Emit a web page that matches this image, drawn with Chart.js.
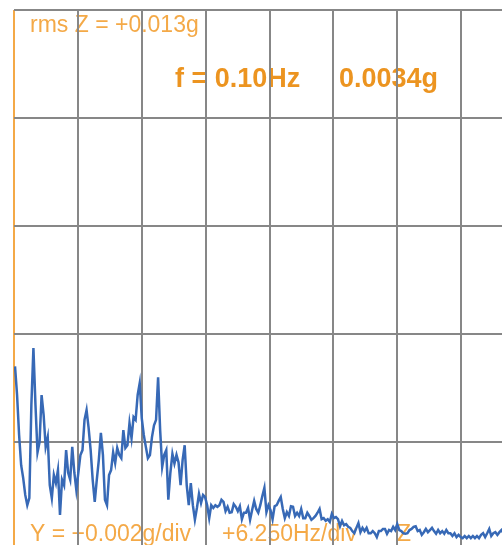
<!DOCTYPE html>
<html>
<head>
<meta charset="utf-8">
<title>Spectrum Z</title>
<script src="https://cdn.jsdelivr.net/npm/chart.js@4/dist/chart.umd.min.js"></script>
<style>
  html, body { margin: 0; padding: 0; background: #ffffff; overflow: hidden; }
  #wrap { position: absolute; left: 0; top: 0; width: 526px; height: 551px; }
</style>
</head>
<body>
<div id="wrap"><canvas id="spectrum" width="526" height="551"></canvas></div>
<script>
// Spectrum of the Z acceleration, amplitude per frequency bin (milli-g)
const FIRST_BIN_HZ = 0.1;
const BIN_HZ = 0.2;
const amplitudeMg = [
  3.40, 2.87, 2.13, 1.57, 1.33, 1.02, 0.83, 0.96, 2.69, 3.74,
  2.69, 1.81, 2.00, 2.87, 2.50, 1.91, 2.09, 1.20, 0.96, 1.39,
  1.24, 1.48, 0.65, 1.30, 1.20, 1.85, 1.43, 1.30, 1.91, 1.44,
  1.11, 1.44, 1.76, 1.85, 2.41, 2.59, 2.26, 1.85, 1.30, 0.89,
  1.30, 1.67, 2.17, 1.76, 0.93, 0.83, 1.39, 1.48, 1.81, 1.61,
  1.89, 1.76, 1.70, 2.22, 1.89, 1.94, 2.35, 2.07, 2.46, 2.41,
  2.87, 3.09, 2.44, 2.13, 1.91, 1.70, 1.76, 2.09, 2.31, 2.41,
  3.20, 2.22, 1.54, 1.76, 1.85, 0.93, 1.43, 1.78, 1.60, 1.76,
  1.62, 1.20, 1.67, 1.94, 1.20, 0.83, 1.24, 0.83, 0.56, 0.78,
  1.04, 0.87, 1.02, 0.98, 0.83, 0.59, 0.83, 0.78, 0.83, 0.80,
  0.83, 0.93, 0.89, 0.72, 0.80, 0.69, 0.70, 0.85, 0.80, 0.72,
  0.81, 0.57, 0.69, 0.69, 0.78, 0.56, 0.74, 0.91, 0.76, 0.69,
  0.83, 1.00, 1.15, 0.70, 0.83, 0.74, 0.57, 0.81, 0.83, 0.91,
  0.98, 0.76, 0.59, 0.70, 0.63, 0.81, 0.80, 0.63, 0.69, 0.63,
  0.76, 0.59, 0.59, 0.69, 0.63, 0.56, 0.59, 0.63, 0.69, 0.76,
  0.57, 0.59, 0.54, 0.57, 0.52, 0.67, 0.59, 0.61, 0.57, 0.44,
  0.54, 0.46, 0.48, 0.43, 0.41, 0.35, 0.31, 0.41, 0.50, 0.33,
  0.41, 0.35, 0.41, 0.31, 0.31, 0.35, 0.31, 0.24, 0.35, 0.35,
  0.39, 0.39, 0.30, 0.37, 0.35, 0.43, 0.37, 0.48, 0.37, 0.35,
  0.31, 0.30, 0.31, 0.37, 0.39, 0.43, 0.44, 0.35, 0.37, 0.28,
  0.33, 0.39, 0.33, 0.37, 0.41, 0.35, 0.30, 0.37, 0.31, 0.35,
  0.30, 0.37, 0.31, 0.31, 0.26, 0.31, 0.24, 0.28, 0.24, 0.22,
  0.26, 0.22, 0.26, 0.22, 0.26, 0.22, 0.26, 0.22, 0.28, 0.31,
  0.24, 0.31, 0.39, 0.26, 0.31, 0.33, 0.28, 0.33, 0.37, 0.31
];

// Display range: 8 divisions of 6.25 Hz, 5 divisions of 2 mg
const X_DIV_HZ = 6.25;
const X_DIVS = 8;
const Y_DIV_MG = 2;
const Y_DIVS = 5;

// Readout texts
const rmsText = 'rms Z = +0.013g';
const cursorFreqText = 'f = 0.10Hz';
const cursorAmpText = '0.0034g';
const yScaleText = 'Y = +0.002g/div';
const xScaleText = '+6.250Hz/div';
const axisText = 'Z';

const points = amplitudeMg.map((v, i) => ({ x: FIRST_BIN_HZ + i * BIN_HZ, y: v }));

const ORANGE_LIGHT = '#f4a947';
const ORANGE_BOLD = '#ec9420';
const GRID = '#878787';

const readoutPlugin = {
  id: 'readouts',
  beforeDraw(chart) {
    const ctx = chart.ctx;
    ctx.save();
    ctx.textBaseline = 'alphabetic';
    ctx.textAlign = 'left';
    ctx.fillStyle = ORANGE_LIGHT;
    ctx.font = '23px "Liberation Sans", Arial, sans-serif';
    ctx.fillText(rmsText, 30, 32);
    ctx.fillText(yScaleText, 30, 541);
    ctx.fillText(xScaleText, 222, 541);
    ctx.fillText(axisText, 397, 541);
    ctx.fillStyle = ORANGE_BOLD;
    ctx.font = 'bold 27px "Liberation Sans", Arial, sans-serif';
    ctx.fillText(cursorFreqText, 175, 87);
    ctx.fillText(cursorAmpText, 339, 87);
    ctx.restore();
  }
};

new Chart(document.getElementById('spectrum'), {
  type: 'line',
  data: {
    datasets: [{
      data: points,
      borderColor: '#3769b6',
      borderWidth: 2.5,
      pointRadius: 0,
      tension: 0,
      fill: false
    }]
  },
  options: {
    responsive: false,
    animation: false,
    events: [],
    layout: { padding: { left: 14, top: 10, right: 1, bottom: 1 } },
    plugins: { legend: { display: false }, tooltip: { enabled: false } },
    scales: {
      x: {
        type: 'linear',
        min: 0,
        max: X_DIV_HZ * X_DIVS,
        ticks: { display: false, stepSize: X_DIV_HZ },
        border: { display: false },
        grid: {
          drawTicks: false,
          lineWidth: 2,
          color: (c) => (c.tick && c.tick.value === 0 ? ORANGE_LIGHT : GRID)
        }
      },
      y: {
        type: 'linear',
        min: 0,
        max: Y_DIV_MG * Y_DIVS,
        ticks: { display: false, stepSize: Y_DIV_MG },
        border: { display: false },
        grid: { drawTicks: false, lineWidth: 2, color: GRID }
      }
    }
  },
  plugins: [readoutPlugin]
});
</script>
</body>
</html>
